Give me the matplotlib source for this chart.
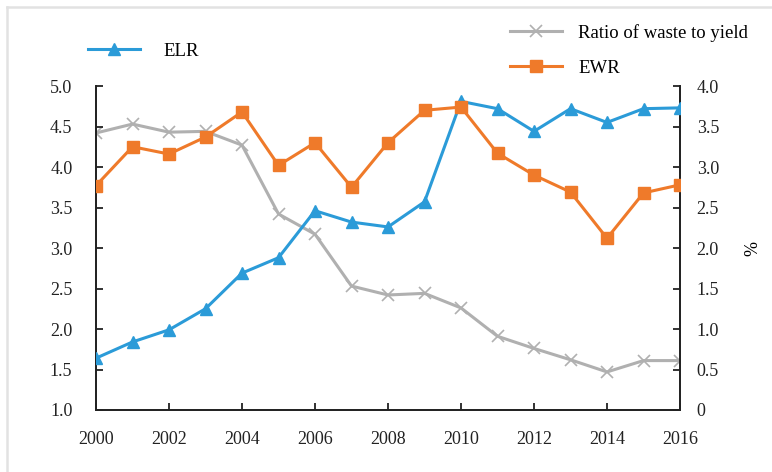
import matplotlib
matplotlib.use("Agg")
import matplotlib.pyplot as plt
from matplotlib.lines import Line2D

years = list(range(2000, 2017))
elr = [1.64, 1.84, 1.99, 2.25, 2.69, 2.88, 3.46, 3.32, 3.26, 3.57,
       4.81, 4.72, 4.44, 4.72, 4.55, 4.72, 4.73]
ewr = [3.77, 4.25, 4.16, 4.37, 4.68, 4.02, 4.30, 3.75, 4.30, 4.70,
       4.74, 4.17, 3.90, 3.69, 3.12, 3.68, 3.78]
waste_ratio = [3.42, 3.53, 3.43, 3.44, 3.27, 2.42, 2.17, 1.53, 1.42, 1.44,
               1.26, 0.91, 0.76, 0.62, 0.47, 0.61, 0.61]

left_ticks = [1.0, 1.5, 2.0, 2.5, 3.0, 3.5, 4.0, 4.5, 5.0]
right_ticks = [0, 0.5, 1.0, 1.5, 2.0, 2.5, 3.0, 3.5, 4.0]
right_labels = ["0", "0.5", "1.0", "1.5", "2.0", "2.5", "3.0", "3.5", "4.0"]

blue = "#2B9BD8"
orange = "#EF7A2A"
grey = "#B0B0B0"

plt.rcParams["font.family"] = ["Liberation Serif", "DejaVu Serif"]
plt.rcParams["font.size"] = 13

fig = plt.figure(figsize=(7.72, 4.72), dpi=100)
ax = fig.add_axes([96 / 772, 62 / 472, 584 / 772, 324 / 472])
ax2 = ax.twinx()

# EWR on the left scale, ratio on the right (%)
ax.plot(years, elr, color=blue, lw=2.2, marker="^", ms=9, zorder=3)
ax.plot(years, ewr, color=orange, lw=2.2, marker="s", ms=9, zorder=3)
ax2.plot(years, waste_ratio, color=grey, lw=2.2, marker="x", ms=8,
         mew=1.2, zorder=2)

ax.set_xlim(2000, 2016)
ax.set_ylim(1.0, 5.0)
ax2.set_ylim(0, 4.0)
ax.set_xticks(range(2000, 2017, 2))
ax.set_yticks(left_ticks)
ax.set_yticklabels([f"{t:.1f}" for t in left_ticks])
ax2.set_yticks(right_ticks)
ax2.set_yticklabels(right_labels)
ax2.set_ylabel("%", rotation=90, labelpad=18)

for a in (ax, ax2):
    a.spines["top"].set_visible(False)
    for s in a.spines.values():
        s.set_linewidth(1.3)
        s.set_color("#222222")
    a.tick_params(direction="in", length=5, width=1.3, colors="#222222",
                  labelcolor="#222222")
ax.tick_params(axis="x", pad=15)
ax.tick_params(axis="y", pad=17)
ax2.tick_params(axis="y", pad=12)
ax.set_zorder(ax2.get_zorder() + 1)
ax.patch.set_visible(False)

# legends placed in the top margin
h_elr = Line2D([], [], color=blue, lw=2.2, marker="^", ms=9)
h_ratio = Line2D([], [], color=grey, lw=2.2, marker="x", ms=8, mew=1.2)
h_ewr = Line2D([], [], color=orange, lw=2.2, marker="s", ms=9)
fig.legend([h_elr], ["ELR"], loc="center left",
           bbox_to_anchor=(88 / 772, 1 - 51 / 472), frameon=False,
           borderpad=0, borderaxespad=0,
           handlelength=2.75, handletextpad=1.3, fontsize=13.5)
fig.legend([h_ratio, h_ewr], ["Ratio of waste to yield", "EWR"],
           loc="center left", bbox_to_anchor=(510 / 772, 1 - 50.5 / 472),
           frameon=False, borderpad=0, borderaxespad=0,
           handlelength=2.75, handletextpad=0.9,
           labelspacing=0.95, fontsize=13.5)

# light frame around the figure
fig.add_artist(Line2D([7 / 772, 1], [1 - 7 / 472, 1 - 7 / 472],
                      color="#E2E2E2", lw=1.8, transform=fig.transFigure))
fig.add_artist(Line2D([7 / 772, 7 / 772], [0, 1 - 7 / 472],
                      color="#E2E2E2", lw=1.8, transform=fig.transFigure))

fig.savefig("out.png", dpi=100)
